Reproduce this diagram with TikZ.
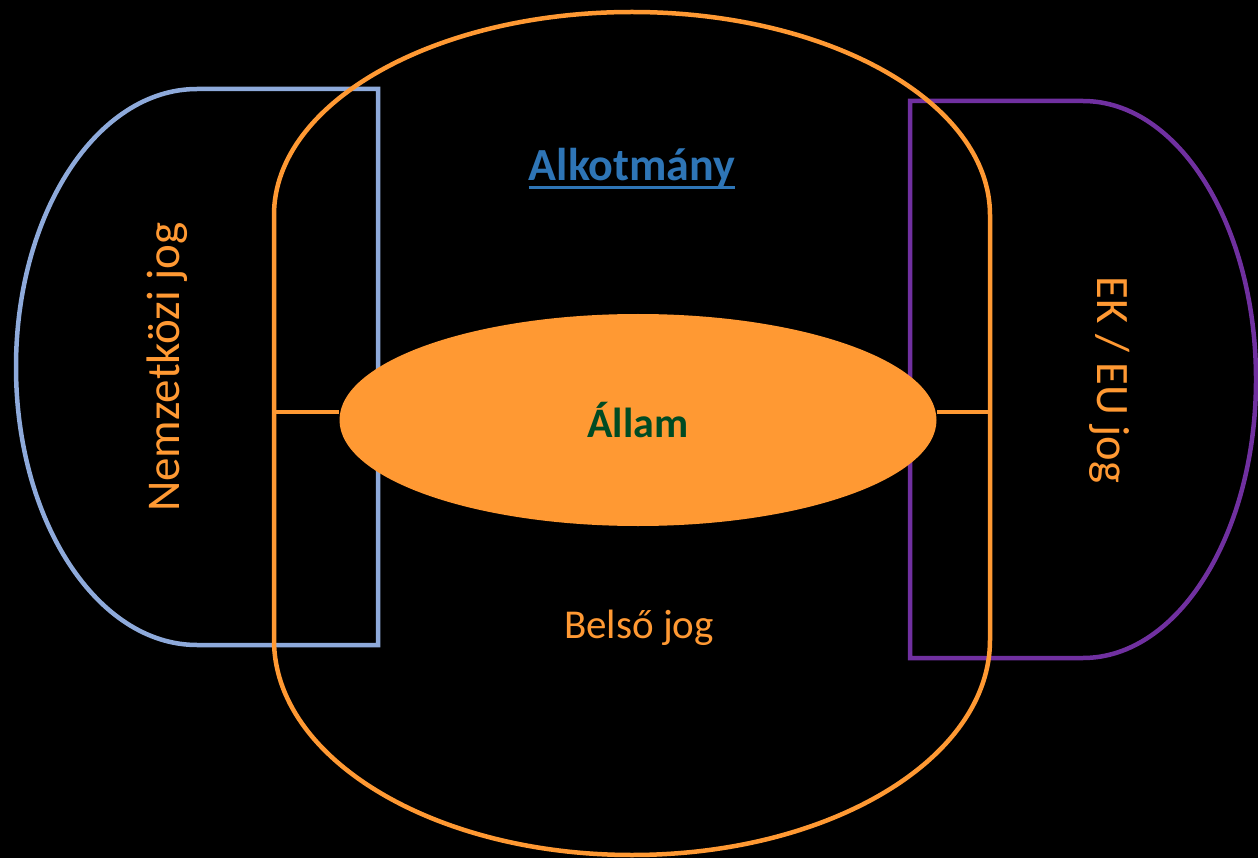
\documentclass[tikz,border=0pt]{standalone}
\usepackage{fontspec}
\setmainfont{Carlito}
\usetikzlibrary{shapes.geometric}
\definecolor{org}{HTML}{FF9933}
\definecolor{bl}{HTML}{8EAADB}
\definecolor{pur}{HTML}{7030A0}
\definecolor{lnk}{HTML}{2E75B6}
\definecolor{dg}{HTML}{004B23}
\tikzset{
  outline/.style={line width=4.5pt, line join=miter},
  lbl/.style={inner sep=0pt, text=org},
}
\begin{document}
\begin{tikzpicture}[x=1pt,y=-1pt]
\fill[black] (0,0) rectangle (1258,858);
\useasboundingbox (0,0) rectangle (1258,858);
% Nemzetkozi jog shape
\draw[outline, bl] (378,89) -- (197,89) arc[start angle=270, end angle=90, x radius=181, y radius=278] -- (378,645) -- cycle;
% EK / EU shape
\draw[outline, pur] (910,101) -- (1083,101) arc[start angle=270, end angle=450, x radius=173, y radius=278.5] -- (910,658) -- cycle;
% Belso jog shape
\draw[outline, org] (274,640) -- (274,215) arc[start angle=180, end angle=360, x radius=358, y radius=203] -- (990,640) arc[start angle=0, end angle=180, x radius=358, y radius=215] -- cycle;
\coordinate (orgL) at (274,412);
\coordinate (orgR) at (990,412);
\node[ellipse, fill=org, minimum width=597pt, minimum height=212pt, inner sep=0pt] (allam) at (638,420) {\fontsize{42}{50}\selectfont\bfseries\color{dg}Állam};
\draw[outline, org] (orgL) -- (orgL -| allam.west);
\draw[outline, org] (orgR) -- (orgR -| allam.east);
\node[inner sep=0pt, text=lnk] (alk) at (632,168) {\fontsize{46}{54}\selectfont\bfseries Alkotmány};
\draw[lnk, line width=3pt] ([yshift=-7pt]alk.base west) -- ([yshift=-7pt]alk.base east);
\node[lbl] (belso) at (639,628) {\fontsize{41}{49}\selectfont Belső jog};
\node[lbl, rotate=90] (nemz) at (167,367) {\fontsize{47}{56}\selectfont Nemzetközi jog};
\node[lbl, rotate=-90] (ek) at (1110,380) {\fontsize{46.5}{56}\selectfont EK / EU jog};
\end{tikzpicture}
\end{document}
